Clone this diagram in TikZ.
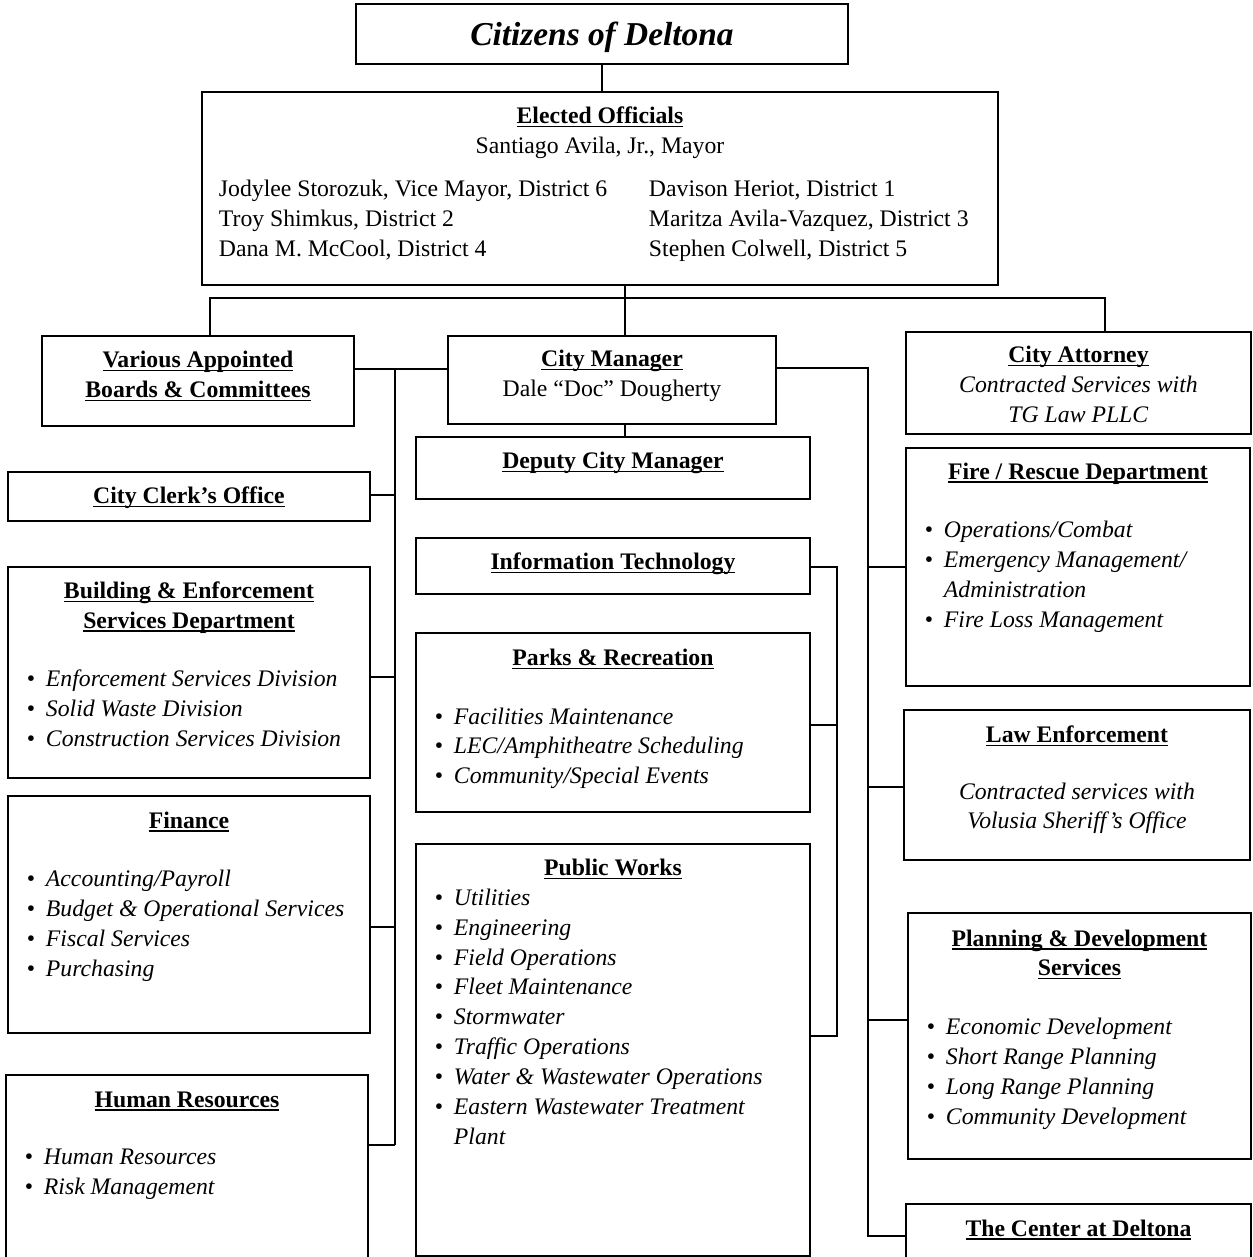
\documentclass[tikz,border=0pt]{standalone}
\usepackage{fontspec}
\setmainfont{Liberation Serif}
\newlength{\pxu}
\setlength{\pxu}{0.02cm}
\newsavebox{\headbox}
\newcommand{\unithead}[1]{\leavevmode\sbox{\headbox}{\textbf{#1}}\rlap{\rule[-2pt]{\wd\headbox}{0.7pt}}\usebox{\headbox}}
\newcommand{\boxtext}[4]{\parbox[t][#2\pxu][t]{#1\pxu}{\vspace*{#3\pxu}#4}}
\newcommand{\listmode}{\par\raggedright\leftskip=19\pxu}
\newcommand{\bul}[1]{\par\hangindent=19\pxu\hangafter=1\makebox[19\pxu][l]{\textbullet}\textit{#1}}
\tikzset{
  orgbox/.style={draw, line width=1.1pt, anchor=north west, inner sep=0pt, font=\fontsize{13.5}{17}\selectfont},
  link/.style={line width=1.1pt}
}
\begin{document}
\begin{tikzpicture}[x=0.02cm, y=-0.02cm]
    \useasboundingbox (0,0) rectangle (1252,1257);
    \fill[white] (0,0) rectangle (1252,1257);

    % Top of the chart
    \node[orgbox] (citizens) at (355,3) {\boxtext{492}{60}{18}{\centering\fontsize{19}{22}\selectfont\textbf{\textit{Citizens of Deltona}}}};
    \node[orgbox] (elected) at (201,91) {\boxtext{796}{193}{15}{\centering\unithead{Elected Officials}\par
        Santiago Avila, Jr., Mayor\par\vspace{7.4pt}\raggedright\leftskip=17\pxu
        \makebox[430\pxu][l]{Jodylee Storozuk, Vice Mayor, District 6}Davison Heriot, District 1\par
        \makebox[430\pxu][l]{Troy Shimkus, District 2}Maritza Avila-Vazquez, District 3\par
        \makebox[430\pxu][l]{Dana M. McCool, District 4}Stephen Colwell, District 5}};

    % Second row
    \node[orgbox] (boards) at (41,335) {\boxtext{312}{90}{15}{\centering\unithead{Various Appointed}\\\unithead{Boards \& Committees}}};
    \node[orgbox] (manager) at (447,335) {\boxtext{328}{88}{14}{\centering\unithead{City Manager}\\Dale “Doc” Dougherty}};
    \node[orgbox] (attorney) at (905,331) {\boxtext{345}{102}{14}{\centering\unithead{City Attorney}\\\textit{Contracted Services with}\\\textit{TG Law PLLC}}};

    % Middle column
    \node[orgbox] (deputy) at (415,436) {\boxtext{394}{62}{15}{\centering\unithead{Deputy City Manager}}};
    \node[orgbox] (infotech) at (415,537) {\boxtext{394}{56}{15}{\centering\unithead{Information Technology}}};
    \node[orgbox] (parks) at (415,632) {\boxtext{394}{179}{16}{\centering\unithead{Parks \& Recreation}\par\vspace{16.4pt}
        \listmode\bul{Facilities Maintenance}\bul{LEC/Amphitheatre Scheduling}\bul{Community/Special Events}}};
    \node[orgbox] (works) at (415,843) {\boxtext{394}{412}{15}{\centering\unithead{Public Works}
        \listmode\bul{Utilities}\bul{Engineering}\bul{Field Operations}\bul{Fleet Maintenance}\bul{Stormwater}
        \bul{Traffic Operations}\bul{Water \& Wastewater Operations}\bul{Eastern Wastewater Treatment\newline Plant}}};

    % Left column
    \node[orgbox] (clerk) at (7,471) {\boxtext{362}{49}{14.6}{\centering\unithead{City Clerk’s Office}}};
    \node[orgbox] (building) at (7,566) {\boxtext{362}{211}{14.6}{\centering\unithead{Building \& Enforcement}\\\unithead{Services Department}\par\vspace{16.4pt}
        \listmode\bul{Enforcement Services Division}\bul{Solid Waste Division}\bul{Construction Services Division}}};
    \node[orgbox] (finance) at (7,795) {\boxtext{362}{237}{15.6}{\centering\unithead{Finance}\par\vspace{16.4pt}
        \listmode\bul{Accounting/Payroll}\bul{Budget \& Operational Services}\bul{Fiscal Services}\bul{Purchasing}}};
    \node[orgbox] (hr) at (5,1074) {\boxtext{362}{184}{16.6}{\centering\unithead{Human Resources}\par\vspace{15.8pt}
        \listmode\bul{Human Resources}\bul{Risk Management}}};

    % Right column
    \node[orgbox] (fire) at (905,447) {\boxtext{344}{238}{14.6}{\centering\unithead{Fire / Rescue Department}\par\vspace{16.4pt}
        \listmode\bul{Operations/Combat}\bul{Emergency Management/\newline Administration}\bul{Fire Loss Management}}};
    \node[orgbox] (law) at (903,709) {\boxtext{346}{150}{15.6}{\centering\unithead{Law Enforcement}\par\vspace{15.3pt}
        \textit{Contracted services with}\\\textit{Volusia Sheriff’s Office}}};
    \node[orgbox] (planning) at (907,912) {\boxtext{343}{246}{16.6}{\centering\unithead{Planning \& Development}\\\unithead{Services}\par\vspace{16.4pt}
        \listmode\bul{Economic Development}\bul{Short Range Planning}\bul{Long Range Planning}\bul{Community Development}}};
    \node[orgbox] (venue) at (905,1203) {\boxtext{345}{56}{15.6}{\centering\unithead{The Center at Deltona}}};

    % Links from the top
    \coordinate (trunk) at (625,298);
    \coordinate (busl) at (210,298);
    \coordinate (busr) at (1105,298);
    \draw[link] (citizens.south) -- (citizens.south |- elected.north);
    \draw[link] (elected.south -| trunk) -- (manager.north -| trunk);
    \draw[link] (boards.north -| busl) -- (busl) -- (busr) -- (attorney.north -| busr);
    \draw[link] (manager.south -| trunk) -- (deputy.north -| trunk);

    % Left trunk
    \coordinate (ltop) at (395,369);
    \coordinate (lbot) at (395,1145);
    \draw[link] (boards.east |- ltop) -- (manager.west |- ltop);
    \draw[link] (ltop) -- (lbot);
    \foreach \n/\y in {clerk/495, building/677, finance/927, hr/1145}
        \draw[link] (\n.east |- 0,\y) -- (ltop |- 0,\y);

    % Right trunk
    \coordinate (rtop) at (868,368);
    \coordinate (rbot) at (868,1236);
    \draw[link] (manager.east |- rtop) -- (rtop) -- (rbot) -- (venue.west |- rbot);
    \foreach \n/\y in {fire/567, law/787, planning/1020}
        \draw[link] (rtop |- 0,\y) -- (\n.west |- 0,\y);

    % Bracket on the middle column
    \coordinate (ctop) at (837,567);
    \coordinate (cbot) at (837,1036);
    \draw[link] (infotech.east |- ctop) -- (ctop) -- (cbot) -- (works.east |- cbot);
    \draw[link] (ctop |- 0,725) -- (parks.east |- 0,725);
\end{tikzpicture}
\end{document}
